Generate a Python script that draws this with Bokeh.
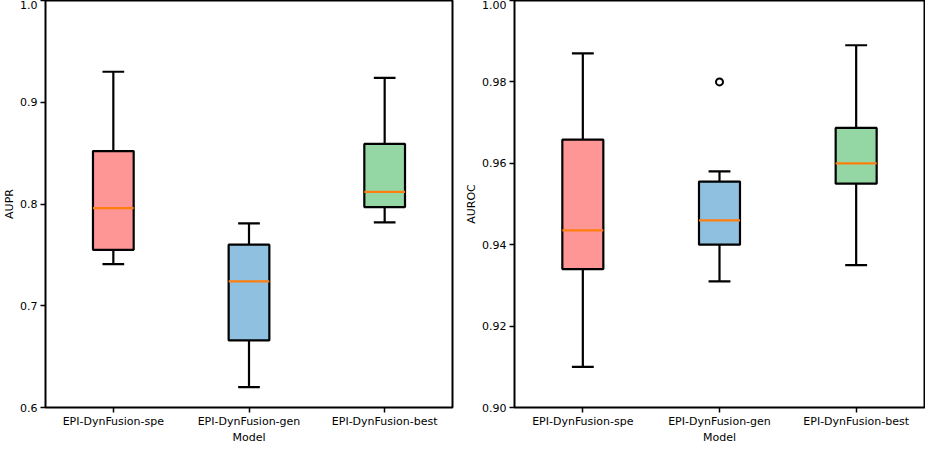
from bokeh.plotting import figure
from bokeh.models import Range1d, ColumnDataSource, FixedTicker, PrintfTickFormatter
from bokeh.layouts import row
from bokeh.embed import file_html
from bokeh.resources import INLINE

models = ["EPI-DynFusion-spe", "EPI-DynFusion-gen", "EPI-DynFusion-best"]
colors = ["#ff9696", "#8fc0e0", "#94d7a4"]

aupr_low = [0.741, 0.620, 0.782]
aupr_q1 = [0.755, 0.666, 0.797]
aupr_med = [0.796, 0.724, 0.812]
aupr_q3 = [0.852, 0.760, 0.859]
aupr_high = [0.930, 0.781, 0.924]
aupr_fliers_model = []
aupr_fliers_y = []

auroc_low = [0.910, 0.931, 0.935]
auroc_q1 = [0.934, 0.940, 0.955]
auroc_med = [0.9435, 0.946, 0.960]
auroc_q3 = [0.9658, 0.9555, 0.9687]
auroc_high = [0.987, 0.958, 0.989]
auroc_fliers_model = ["EPI-DynFusion-gen"]
auroc_fliers_y = [0.980]

FONT = "DejaVu Sans"
BOX_W = 0.3
CAP_W = 0.16


def make(ylabel, low, q1, med, q3, high, fmodel, fy, yr, ticks, fmt, width, bl, br):
    pos = list(range(1, len(models) + 1))
    p = figure(x_range=Range1d(0.5, len(models) + 0.5), y_range=Range1d(*yr),
               width=width, height=446, output_backend="svg", toolbar_location=None,
               min_border_left=bl, min_border_right=br, min_border_top=0, min_border_bottom=0)
    src = ColumnDataSource(dict(x=pos, low=low, q1=q1, med=med, q3=q3, high=high, color=colors,
                                cl=[v - CAP_W / 2 for v in pos], cr=[v + CAP_W / 2 for v in pos],
                                bl=[v - BOX_W / 2 for v in pos], br=[v + BOX_W / 2 for v in pos]))
    # whiskers
    p.segment(x0="x", y0="q3", x1="x", y1="high", source=src, line_color="black", line_width=2.2)
    p.segment(x0="x", y0="low", x1="x", y1="q1", source=src, line_color="black", line_width=2.2)
    # caps
    p.segment(x0="cl", y0="high", x1="cr", y1="high", source=src, line_color="black", line_width=2.2)
    p.segment(x0="cl", y0="low", x1="cr", y1="low", source=src, line_color="black", line_width=2.2)
    # boxes
    p.vbar(x="x", bottom="q1", top="q3", width=BOX_W, source=src, fill_color="color",
           line_color="black", line_width=2.2)
    # medians
    p.segment(x0="bl", y0="med", x1="br", y1="med", source=src, line_color="#ff7f0e", line_width=2.2)
    if fmodel:
        fx = [models.index(m) + 1 for m in fmodel]
        p.scatter(x=fx, y=fy, marker="circle", size=7, fill_color=None, line_color="black", line_width=2)

    p.grid.visible = False
    p.outline_line_color = "black"
    p.outline_line_width = 2
    p.outline_line_alpha = 1
    for ax in (p.xaxis[0], p.yaxis[0]):
        ax.axis_line_color = None
        ax.major_tick_line_width = 1.5
        ax.major_tick_line_color = "black"
        ax.major_tick_out = 5
        ax.major_tick_in = 0
        ax.minor_tick_line_color = None
        ax.major_label_text_font = FONT
        ax.major_label_text_font_size = "11px"
        ax.major_label_text_color = "black"
        ax.axis_label_text_font = FONT
        ax.axis_label_text_font_size = "11px"
        ax.axis_label_text_font_style = "normal"
        ax.axis_label_text_color = "black"
        ax.major_label_standoff = 3
        ax.axis_label_standoff = 1
    p.xaxis.major_label_standoff = 2
    p.xaxis.axis_label_standoff = 0
    p.xaxis.ticker = FixedTicker(ticks=pos)
    p.xaxis.major_label_overrides = {v: m for v, m in zip(pos, models)}
    p.yaxis.ticker = FixedTicker(ticks=ticks)
    p.yaxis.formatter = PrintfTickFormatter(format=fmt)
    p.yaxis.axis_label = ylabel
    p.xaxis.axis_label = "Model"
    return p


p1 = make("AUPR", aupr_low, aupr_q1, aupr_med, aupr_q3, aupr_high, aupr_fliers_model, aupr_fliers_y,
          (0.6, 1.0), [0.6, 0.7, 0.8, 0.9, 1.0], "%.1f", 462, 30, 10)
p2 = make("AUROC", auroc_low, auroc_q1, auroc_med, auroc_q3, auroc_high, auroc_fliers_model, auroc_fliers_y,
          (0.90, 1.00), [0.90, 0.92, 0.94, 0.96, 0.98, 1.00], "%.2f", 463, 49, 1)

layout = row(p1, p2)
open("out.html", "w").write(file_html(layout, INLINE))
